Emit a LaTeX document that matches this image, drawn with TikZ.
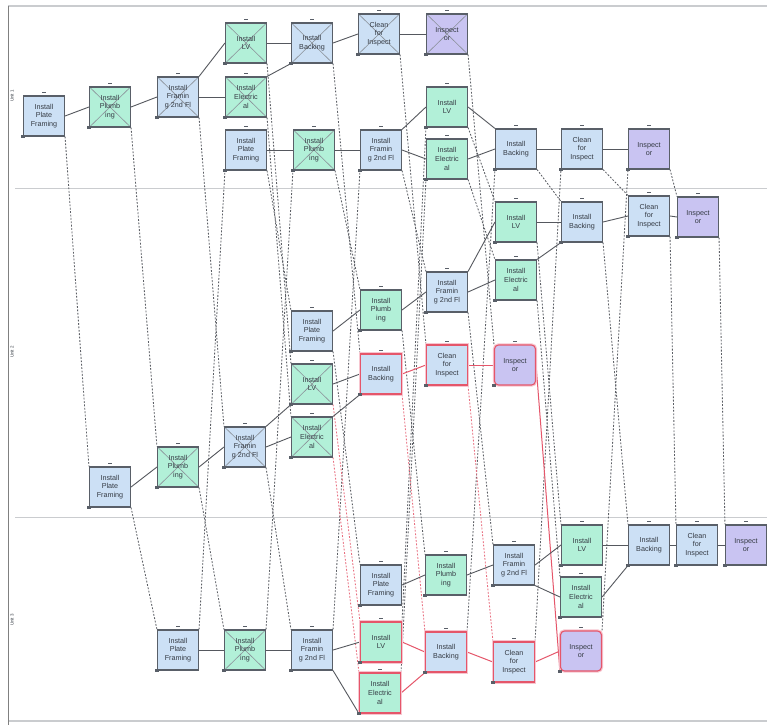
\documentclass[tikz,border=0pt]{standalone}
\usepackage{fontspec}
\setmainfont{Liberation Sans}
\definecolor{fbl}{HTML}{CCE0F5}
\definecolor{fgr}{HTML}{B2F0D8}
\definecolor{fpu}{HTML}{C9C4F2}
\definecolor{boxline}{HTML}{595F68}
\definecolor{txt}{HTML}{353B44}
\definecolor{lnk}{HTML}{55585E}
\definecolor{reslnk}{HTML}{5C5F65}
\definecolor{critred}{HTML}{E5566A}
\definecolor{critpink}{HTML}{F7C6D0}
\definecolor{framegray}{HTML}{CACCCF}
\definecolor{xline}{HTML}{8A9098}
\pgfdeclarelayer{paper}
\pgfdeclarelayer{edges}
\pgfsetlayers{paper,edges,main}
% task captions
\newcommand\tPF{Install\\Plate\\Framing}
\newcommand\tPL{Install\\Plumb\\ing}
\newcommand\tFS{Install\\Framin\\g 2nd Fl}
\newcommand\tLV{Install\\LV}
\newcommand\tEL{Install\\Electric\\al}
\newcommand\tBK{Install\\Backing}
\newcommand\tCL{Clean\\for\\Inspect}
\newcommand\tIN{Inspect\\or}
\begin{document}
\begin{tikzpicture}[x=1pt,y=-1pt,
  task/.style={draw=boxline, line width=1.1pt, minimum width=41pt, minimum height=40pt,
    inner sep=1pt, align=center, font=\fontsize{7.2}{8.6}\selectfont, text=txt},
  fr/.style={task, fill=fbl},
  pl/.style={task, fill=fgr},
  ip/.style={task, fill=fpu},
  crit/.style={draw=critred, line width=1.1pt, preaction={draw=critpink, line width=3.4pt}},
  critround/.style={crit, rounded corners=4pt},
  xed/.style={path picture={\draw[xline, line width=0.6pt]
      (path picture bounding box.north west) -- (path picture bounding box.south east)
      (path picture bounding box.north east) -- (path picture bounding box.south west);}},
  link/.style={draw=lnk, line width=0.9pt},
  critlink/.style={draw=critred, line width=1pt},
  res/.style={draw=reslnk, line width=0.85pt, dash pattern=on 1.8pt off 1.6pt},
  critres/.style={res, draw=critred!85},
  lanelabel/.style={font=\fontsize{4.5}{5}\selectfont, text=txt, rotate=90, inner sep=0.5pt, fill=white},
  tinymark/.style={fill=boxline}
]
\useasboundingbox (0,0) rectangle (767,725);
\begin{pgfonlayer}{paper}
\fill[white] (0,0) rectangle (767,725);
% frame and swimlanes
\draw[framegray, line width=1.2pt] (8,6) -- (767,6);
\draw[framegray, line width=1.2pt] (8,721) -- (767,721);
\draw[gray, line width=1pt] (8,6) -- (8,725);
\draw[framegray, line width=1pt] (15,188) -- (767,188);
\draw[framegray, line width=1pt] (15,517) -- (767,517);
\end{pgfonlayer}
\node[lanelabel] (u1) at (12,96) {Unit 1};
\node[lanelabel] (u2) at (12,352) {Unit 2};
\node[lanelabel] (u3) at (12,620) {Unit 3};

% ---- lane 1 ----
\node[fr] (A1) at (44,116) {\tPF};
\node[pl,xed] (A2) at (110,107) {\tPL};
\node[fr,xed] (A3) at (178,97) {\tFS};
\node[pl,xed] (A4) at (246,43) {\tLV};
\node[pl,xed] (A5) at (246,97) {\tEL};
\node[fr] (A6) at (246,150) {\tPF};
\node[fr,xed] (A7) at (312,43) {\tBK};
\node[pl,xed] (A8) at (314,150) {\tPL};
\node[fr,xed] (A9) at (379,34) {\tCL};
\node[ip,xed] (A10) at (447,34) {\tIN};
\node[fr] (A11) at (381,150) {\tFS};
\node[pl] (A12) at (447,107) {\tLV};
\node[pl] (A13) at (447,159) {\tEL};
\node[fr] (A14) at (516,149) {\tBK};
\node[fr] (A15) at (582,149) {\tCL};
\node[ip] (A16) at (649,149) {\tIN};

% ---- lane 2 ----
\node[pl] (B1) at (516,222) {\tLV};
\node[fr] (B2) at (582,222) {\tBK};
\node[fr] (B3) at (649,216) {\tCL};
\node[ip] (B4) at (698,217) {\tIN};
\node[fr] (B5) at (447,292) {\tFS};
\node[pl] (B6) at (516,280) {\tEL};
\node[fr] (B7) at (312,331) {\tPF};
\node[pl] (B8) at (381,310) {\tPL};
\node[pl,xed] (B9) at (312,384) {\tLV};
\node[fr,crit] (B10) at (381,374) {\tBK};
\node[fr,crit] (B11) at (447,365) {\tCL};
\node[ip,critround] (B12) at (515,365) {\tIN};
\node[pl,xed] (B13) at (312,437) {\tEL};
\node[fr,xed] (B14) at (245,447) {\tFS};
\node[pl,xed] (B15) at (178,467) {\tPL};
\node[fr] (B16) at (110,487) {\tPF};

% ---- lane 3 ----
\node[pl] (C1) at (582,545) {\tLV};
\node[fr] (C2) at (649,545) {\tBK};
\node[fr] (C3) at (697,545) {\tCL};
\node[ip] (C4) at (746,545) {\tIN};
\node[fr] (C5) at (514,565) {\tFS};
\node[pl] (C6) at (581,597) {\tEL};
\node[ip,critround] (C7) at (581,651) {\tIN};
\node[pl] (C8) at (446,575) {\tPL};
\node[fr] (C9) at (381,585) {\tPF};
\node[pl,crit] (C10) at (381,642) {\tLV};
\node[pl,crit] (C11) at (380,693) {\tEL};
\node[fr,crit] (C12) at (446,652) {\tBK};
\node[fr,crit] (C13) at (514,662) {\tCL};
\node[fr] (C14) at (312,650) {\tFS};
\node[pl,xed] (C15) at (245,650) {\tPL};
\node[fr] (C16) at (178,650) {\tPF};

% small handles on every task box
\foreach \n in {A1,A2,A3,A4,A5,A6,A7,A8,A9,A10,A11,A12,A13,A14,A15,A16,
                B1,B2,B3,B4,B5,B6,B7,B8,B9,B10,B11,B12,B13,B14,B15,B16,
                C1,C2,C3,C4,C5,C6,C7,C8,C9,C10,C11,C12,C13,C14,C15,C16}{
  \fill[tinymark] ([xshift=-1.8pt,yshift=2.2pt]\n.north) rectangle ([xshift=1.8pt,yshift=3.6pt]\n.north);
  \fill[tinymark] ([xshift=-1.5pt,yshift=-1.5pt]\n.south west) rectangle ([xshift=2pt,yshift=2pt]\n.south west);
}

\begin{pgfonlayer}{edges}
% crew hand-offs between units (dashed)
\foreach \a/\b/\c/\d/\e/\f/\s in {
    A1/B16/C16/A6/B7/C9/res,
    A2/B15/C15/A8/B8/C8/res,
    A3/B14/C14/A11/B5/C5/res,
    A4/B9/C10/A12/B1/C1/critres,
    A5/B13/C11/A13/B6/C6/critres,
    A7/B10/C12/A14/B2/C2/critres,
    A9/B11/C13/A15/B3/C3/critres}{
  \draw[res] (\a.south east) -- (\b.north west);
  \draw[\s] (\b.south east) -- (\c.north west);
  \draw[res] (\c.north east) -- (\d.south west);
  \draw[res] (\d.south east) -- (\e.north west);
  \draw[res] (\e.south east) -- (\f.north west);
}
\draw[res] (A10.south east) -- (B12.north west);
\draw[critlink] (B12.east) -- (C7.south west);
\draw[res] (C7.north east) -- (A16.south west);
\draw[res] (A16.south east) -- (B4.north west);
\draw[res] (B4.south east) -- (C4.north west);

% lane 1 logic
\draw[link] (A1.east) -- (A2.west);
\draw[link] (A2.east) -- (A3.west);
\draw[link] (A3.north east) -- (A4.west);
\draw[link] (A3.east) -- (A5.west);
\draw[link] (A4.east) -- (A7.west);
\draw[link] (A5.north east) -- (A7.south west);
\draw[link] (A7.east) -- (A9.west);
\draw[link] (A9.east) -- (A10.west);
\draw[link] (A6.east) -- (A8.west);
\draw[link] (A8.east) -- (A11.west);
\draw[link] (A11.north east) -- (A12.west);
\draw[link] (A11.east) -- (A13.west);
\draw[link] (A12.east) -- (A14.north west);
\draw[link] (A13.east) -- (A14.west);
\draw[link] (A14.east) -- (A15.west);
\draw[link] (A15.east) -- (A16.west);

% lane 2 logic
\draw[link] (B16.east) -- (B15.west);
\draw[link] (B15.east) -- (B14.west);
\draw[link] (B14.north east) -- (B9.south west);
\draw[link] (B14.east) -- (B13.west);
\draw[link] (B9.east) -- (B10.west);
\draw[link] (B13.north east) -- (B10.south west);
\draw[critlink] (B10.east) -- (B11.west);
\draw[critlink] (B11.east) -- (B12.west);
\draw[link] (B7.east) -- (B8.west);
\draw[link] (B8.east) -- (B5.west);
\draw[link] (B5.north east) -- (B1.west);
\draw[link] (B5.east) -- (B6.west);
\draw[link] (B1.east) -- (B2.west);
\draw[link] (B6.north east) -- (B2.south west);
\draw[link] (B2.east) -- (B3.west);
\draw[link] (B3.east) -- (B4.west);

% lane 3 logic
\draw[link] (C16.east) -- (C15.west);
\draw[link] (C15.east) -- (C14.west);
\draw[link] (C14.east) -- (C10.west);
\draw[link] (C14.south east) -- (C11.south west);
\draw[critlink] (C10.east) -- (C12.west);
\draw[critlink] (C11.east) -- (C12.south west);
\draw[critlink] (C12.east) -- (C13.west);
\draw[critlink] (C13.east) -- (C7.west);
\draw[link] (C9.east) -- (C8.west);
\draw[link] (C8.east) -- (C5.west);
\draw[link] (C5.east) -- (C1.west);
\draw[link] (C5.south east) -- (C6.west);
\draw[link] (C1.east) -- (C2.west);
\draw[link] (C6.east) -- (C2.south west);
\draw[link] (C2.east) -- (C3.west);
\draw[link] (C3.east) -- (C4.west);
\end{pgfonlayer}
\end{tikzpicture}
\end{document}
